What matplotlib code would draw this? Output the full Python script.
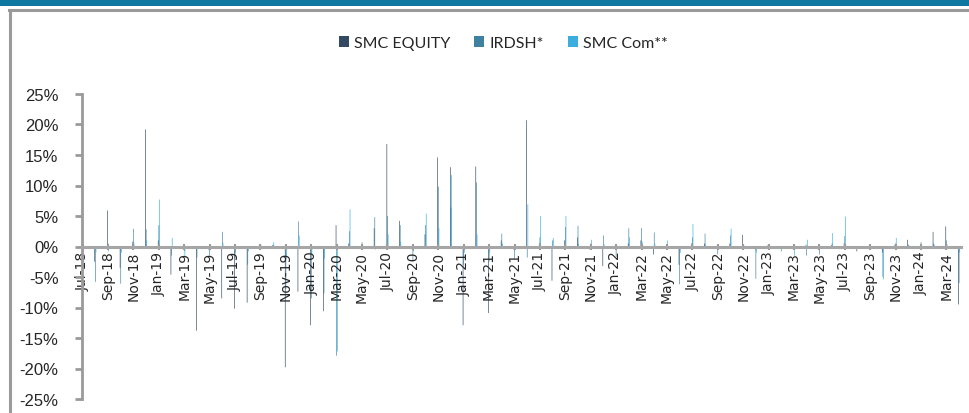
import matplotlib
matplotlib.use("Agg")
import matplotlib.pyplot as plt
import numpy as np
import pandas as pd
from matplotlib.ticker import FuncFormatter
from matplotlib.patches import Rectangle

# monthly returns in %, Jul-18 .. Apr-24
months = pd.date_range("2018-07-01", "2024-04-01", freq="MS")
smc_equity = [-0.8, -2.5, 5.9, -3.5, 0.8, 19.2, 1.0, -4.6, -0.5, -13.8,
              -0.6, -8.5, -10.2, -9.2, 0.3, 0.2, -19.8, -7.4, -12.9, -10.6,
              3.5, 0.5, 0.2, 3.0, 16.8, 4.2, -0.5, 2.0, 14.6, 13.0,
              -12.9, 13.1, -10.9, 1.0, -0.5, 20.7, 0.5, -5.6, 1.0, 1.5,
              -0.5, -3.2, -0.5, 0.5, 1.0, -1.3, 0.3, -3.0, 0.5, 0.5,
              -0.4, 0.5, 1.9, -0.5, 0.2, -0.3, -0.3, 0.3, -0.3, 0.2,
              0.5, -0.8, 0.2, -1.0, 0.3, 1.1, 0.3, 2.4, 3.3, -9.5]
irdsh = [-0.5, -5.8, 0.5, -6.1, 2.9, 2.8, 3.5, -1.5, -0.8, -1.8,
         -1.5, 2.4, -2.0, -3.0, -0.3, 0.3, -7.0, 4.1, -8.5, -7.7,
         -17.9, 2.5, 0.7, 4.8, 5.0, 3.5, -2.5, 3.5, 9.8, 6.4,
         -3.0, 10.5, -2.5, 2.1, -2.0, -1.8, 1.5, 1.0, 3.2, 3.4,
         0.5, 1.8, -1.7, 3.0, 3.0, 2.3, 0.4, -6.2, 1.5, 2.1,
         -1.3, 1.8, 0.3, -5.3, -0.2, -0.8, -0.5, -1.5, -1.3, 0.5,
         1.7, -0.3, 0.1, -5.0, 0.5, 0.3, 0.7, 0.5, 1.0, -6.0]
smc_com = [0.3, -1.0, -0.8, -1.0, 0.5, 1.0, 7.7, 1.4, -1.8, -0.3,
           -0.4, 0.6, -1.0, -0.8, 0.2, 0.7, -2.0, 1.8, -1.5, -2.0,
           -17.2, 6.1, 0.3, -0.5, 2.0, 0.8, -0.8, 5.4, 3.0, 11.7,
           -1.0, 2.0, -1.0, 0.5, -0.3, 6.9, 5.0, 1.4, 5.0, 0.5,
           1.1, 0.4, -0.3, 1.5, 0.8, 0.5, 1.0, -1.0, 3.7, 0.3,
           -0.5, 2.9, 0.2, -1.0, 0.1, -0.2, -1.5, 1.1, -0.4, 2.2,
           4.9, -0.2, -0.2, -5.4, 1.4, 0.2, 0.2, 0.3, 0.4, -1.0]
series_names = ["SMC EQUITY", "IRDSH*", "SMC Com**"]
colors = ["#102a46", "#1d6b90", "#18a0da"]

x = np.arange(len(months))
labels = [m.strftime("%b-%y") for m in months]

fig = plt.figure(figsize=(9.70, 4.14), dpi=100)

# frame decorations: teal band on top and grey box border
fig.add_artist(Rectangle((0, 1 - 7 / 414), 1, 7 / 414, transform=fig.transFigure,
                         facecolor="#0e77a0", edgecolor="none"))
fig.add_artist(plt.Line2D([9.5 / 970, 1], [1 - 11 / 414, 1 - 11 / 414],
                          transform=fig.transFigure, color="#9a9a9a", lw=2.2))
fig.add_artist(plt.Line2D([10 / 970, 10 / 970], [0, 1 - 11 / 414],
                          transform=fig.transFigure, color="#9a9a9a", lw=2.2))

ax = fig.add_axes([82 / 970, 1 - 400 / 414, 879 / 970, 305 / 414])

w = 0.05
for k, (vals, name, col) in enumerate(zip([smc_equity, irdsh, smc_com], series_names, colors)):
    bars = ax.bar(x + (k - 1) * w, vals, width=w, color=col, label=name,
                  linewidth=0, alpha=0.85)
    for b in bars:
        b.set_snap(False)

ax.set_xlim(-0.05, 69.15)
ax.set_ylim(-25, 25)
ax.set_yticks(np.arange(-25, 26, 5))
ax.yaxis.set_major_formatter(FuncFormatter(lambda v, p: f"{v:.0f}%"))

ax.set_xticks(x[::2])
ax.set_xticklabels(labels[::2])
ax.tick_params(axis="x", labelrotation=90, labelsize=10, labelcolor="#262626",
               length=4, width=1.5, color="#9a9a9a", direction="inout", pad=1)
for lab in ax.get_xticklabels():
    lab.set_family("Liberation Sans")
for lab in ax.get_yticklabels():
    lab.set_family("Liberation Sans")
ax.tick_params(axis="y", length=5, width=2, color="#9a9a9a", pad=12,
               labelsize=12, labelcolor="#262626")

ax.spines["bottom"].set_position(("data", 0))
for s in ["top", "right"]:
    ax.spines[s].set_visible(False)
ax.spines["left"].set_color("#9a9a9a")
ax.spines["left"].set_linewidth(2)
ax.spines["bottom"].set_color("#a6a6a6")
ax.spines["bottom"].set_linewidth(2.2)

leg = fig.legend(loc="center", bbox_to_anchor=(503 / 970, 1 - 44 / 414), ncol=3,
                 frameon=False, handlelength=0.65, handleheight=0.65, handletextpad=0.3,
                 columnspacing=1.5, prop={"family": "Lato", "size": 11.5})
for t in leg.get_texts():
    t.set_color("#262626")

plt.savefig("out.png", dpi=100)
